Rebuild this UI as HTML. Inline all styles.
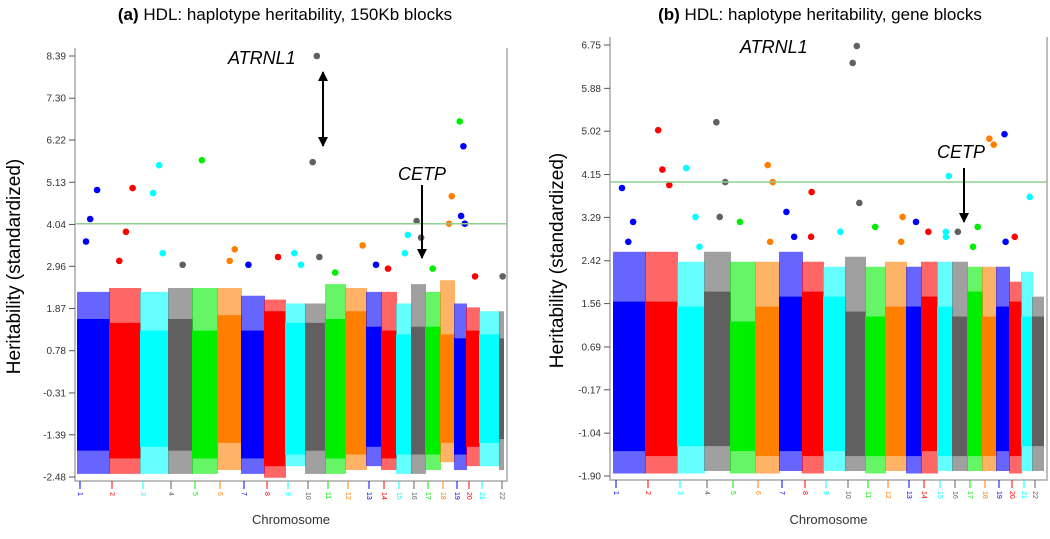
<!DOCTYPE html>
<html><head><meta charset="utf-8">
<style>
body{margin:0;background:#fff;}
svg{display:block;font-family:"Liberation Sans",sans-serif;}
</style></head>
<body>
<svg id="chart" width="1050" height="539" viewBox="0 0 1050 539"></svg>
<script>
const chromosomes=["1","2","3","4","5","6","7","8","9","10","11","12","13","14","15","16","17","18","19","20","21","22"];
const colors=["#0000ff","#ff0000","#00ffff","#606060","#00ee00","#ff8000"];
// Panel A data
const aTicks=[8.39,7.30,6.22,5.13,4.04,2.96,1.87,0.78,-0.31,-1.39,-2.48];
const aDenseTop=[1.6,1.5,1.3,1.6,1.3,1.7,1.3,1.8,1.5,1.5,1.6,1.8,1.4,1.3,1.2,1.4,1.4,1.2,1.1,1.3,1.2,1.1];
const aDenseBot=[-1.8,-2.0,-1.7,-1.8,-2.0,-1.6,-2.0,-2.2,-1.9,-1.8,-2.0,-1.9,-1.7,-2.0,-1.9,-1.9,-1.9,-1.6,-1.9,-1.7,-1.6,-1.5];
const aSparseTop=[2.3,2.4,2.3,2.4,2.4,2.4,2.2,2.1,2.0,2.0,2.5,2.4,2.3,2.3,2.0,2.5,2.3,2.6,2.0,1.9,1.8,1.8];
const aSparseBot=[-2.4,-2.4,-2.4,-2.4,-2.4,-2.3,-2.4,-2.5,-2.2,-2.4,-2.4,-2.3,-2.2,-2.3,-2.4,-2.4,-2.3,-2.1,-2.3,-2.2,-2.2,-2.3];
const aOutChr=[1,1,1,2,2,2,3,3,3,4,5,6,6,7,8,9,9,10,10,10,11,12,13,14,15,15,16,16,17,18,18,19,19,19,19,20,22];
const aOutVal=[3.6,4.93,4.18,4.98,3.85,3.1,5.57,4.85,3.3,3.0,5.7,3.4,3.1,3.0,3.2,3.3,3.0,8.39,5.65,3.2,2.8,3.5,3.0,2.9,3.77,3.3,4.13,3.7,2.9,4.77,4.06,6.7,6.06,4.26,4.06,2.7,2.7];
const aOutColorChr=[1,1,1,2,2,2,3,3,3,4,5,6,6,7,8,9,9,10,10,10,11,12,13,14,15,15,16,16,11,18,18,17,19,19,19,20,22];
// Panel B data
const bTicks=[6.75,5.88,5.02,4.15,3.29,2.42,1.56,0.69,-0.17,-1.04,-1.90];
const bDenseTop=[1.6,1.6,1.5,1.8,1.2,1.5,1.7,1.8,1.7,1.4,1.3,1.5,1.5,1.7,1.5,1.3,1.8,1.3,1.5,1.6,1.3,1.3];
const bDenseBot=[-1.4,-1.5,-1.3,-1.3,-1.4,-1.5,-1.4,-1.5,-1.4,-1.5,-1.5,-1.5,-1.5,-1.4,-1.5,-1.5,-1.5,-1.5,-1.4,-1.5,-1.3,-1.3];
const bSparseTop=[2.6,2.6,2.4,2.6,2.4,2.4,2.6,2.4,2.3,2.5,2.3,2.4,2.3,2.4,2.4,2.4,2.3,2.3,2.3,2.0,2.2,1.7];
const bSparseBot=[-1.85,-1.85,-1.85,-1.8,-1.85,-1.85,-1.8,-1.85,-1.8,-1.8,-1.85,-1.8,-1.85,-1.85,-1.8,-1.8,-1.8,-1.8,-1.8,-1.85,-1.8,-1.8];
const bOutChr=[1,1,2,2,2,3,3,4,4,4,5,6,6,7,7,8,9,10,10,10,11,12,13,14,15,15,16,17,18,18,19,20,21,1,3,6,8,12,15,17,19];
const bOutVal=[3.88,3.2,5.04,3.94,4.25,4.28,3.3,5.2,4.0,3.3,3.2,4.0,4.34,3.4,2.9,3.8,3.0,6.73,6.39,3.58,3.1,3.3,3.2,3.0,4.12,3.0,3.0,3.1,4.87,4.75,4.96,2.9,3.7,2.8,2.7,2.8,2.9,2.8,2.9,2.7,2.8];
const aChrTick=[80,112,143,171,195,220,244,267,288,308,328,348,369,384,399,414,428,443,457,469,482,502];
const bChrTick=[616,648,680,707,733,758,782,805,826,848,868,888,909,924,940,955,970,985,999,1012,1024,1035];

const NS="http://www.w3.org/2000/svg";
const svg=document.getElementById('chart');
function mk(tag,attrs,parent){const e=document.createElementNS(NS,tag);for(const k in attrs)e.setAttribute(k,attrs[k]);(parent||svg).appendChild(e);return e;}

function panel(cfg){
  const g=mk('g',{});
  
  
  const yMax=cfg.ticks[0],yMin=cfg.ticks[cfg.ticks.length-1];
  const Y=v=>cfg.yTop+(yMax-v)/(yMax-yMin)*(cfg.yBot-cfg.yTop);
  const chrL=i=>cfg.chrTick[i];
  const chrR=i=>i<cfg.chrTick.length-1?cfg.chrTick[i+1]-2:cfg.right-3;
  const X=(c,f)=>chrL(c-1)+(chrR(c-1)-chrL(c-1))*f;
  for(let i=0;i<chromosomes.length;i++){
    const col=colors[i%6];
    const s=mk('rect',{x:chrL(i)-3,y:Y(cfg.sparseTop[i]),width:chrR(i)-chrL(i)+3,height:Y(cfg.sparseBot[i])-Y(cfg.sparseTop[i]),fill:col,opacity:0.6},g);
    
    
    const d=mk('rect',{x:chrL(i)-3,y:Y(cfg.denseTop[i]),width:chrR(i)-chrL(i)+3,height:Y(cfg.denseBot[i])-Y(cfg.denseTop[i]),fill:col},g);
    
    
  }
  for(let k=0;k<cfg.outChr.length;k++){
    const c=cfg.outChr[k];
    const cc=cfg.outColChr?cfg.outColChr[k]:c;
    const f=0.2+((k*37)%60)/100;
    const p=mk('circle',{cx:X(c,f),cy:Y(cfg.outVal[k]),r:3.3,fill:colors[(cc-1)%6]},g);
    
    
  }
  const th=mk('line',{x1:cfg.left,x2:cfg.right,y1:Y(cfg.thr),y2:Y(cfg.thr),stroke:'#8fd08f','stroke-width':1.5},g);
  
  
  const ax=mk('path',{d:`M${cfg.left},${cfg.yTop-8}V${cfg.yBot+4}H${cfg.right}V${cfg.yTop-8}`,fill:'none',stroke:'#aaa','stroke-width':1.5},g);
  
  
  cfg.ticks.forEach(t=>{
    const y=Y(t);
    mk('line',{x1:cfg.left-6,x2:cfg.left,y1:y,y2:y,stroke:'#555'},g);
    const tx=mk('text',{x:cfg.left-9,y:y+3.5,'font-size':10,'text-anchor':'end',fill:'#333'},g);
    tx.textContent=t.toFixed(2);
    
    
  });
  chromosomes.forEach((c,i)=>{
    const x=cfg.chrTick[i],col=colors[i%6];
    mk('line',{x1:x,x2:x,y1:cfg.yBot+4,y2:cfg.yBot+12,stroke:col},g);
    const tx=mk('text',{x:0,y:0,'font-size':7,fill:col,transform:`translate(${x-2},${cfg.yBot+15}) rotate(90)`},g);
    tx.textContent=c;
    
    
  });
  const xt=mk('text',{x:(cfg.left+cfg.right)/2,y:524,'font-size':13,'text-anchor':'middle',fill:'#333'},g);
  xt.textContent='Chromosome';
  
  
  const yt=mk('text',{x:0,y:0,'font-size':19,'text-anchor':'middle',fill:'#000',transform:`translate(${cfg.yTitleX},${(cfg.yTop+cfg.yBot)/2}) rotate(-90)`},g);
  yt.textContent='Heritability (standardized)';
  
  
  const ti=mk('text',{x:cfg.titleX,y:20,'font-size':17,'text-anchor':'middle',fill:'#000'},g);
  ti.innerHTML=cfg.title;
  
  
  return {Y,X,g};
}

const A=panel({name:'panel-a',left:75,right:507,yTop:56,yBot:477,ticks:aTicks,thr:4.06,denseTop:aDenseTop,denseBot:aDenseBot,sparseTop:aSparseTop,sparseBot:aSparseBot,outChr:aOutChr,outVal:aOutVal,outColChr:aOutColorChr,chrTick:aChrTick,yTitleX:20,titleX:285,title:'<tspan font-weight="bold">(a)</tspan> HDL: haplotype heritability, 150Kb blocks'});
const B=panel({name:'panel-b',left:610,right:1047,yTop:45,yBot:476,ticks:bTicks,thr:4.00,denseTop:bDenseTop,denseBot:bDenseBot,sparseTop:bSparseTop,sparseBot:bSparseBot,outChr:bOutChr,outVal:bOutVal,chrTick:bChrTick,yTitleX:563,titleX:820,title:'<tspan font-weight="bold">(b)</tspan> HDL: haplotype heritability, gene blocks'});

function ann(x,y,t,name){const e=mk('text',{x,y,'font-size':18,'font-style':'italic',fill:'#000'});e.textContent=t;}
ann(228,64,'ATRNL1','atrnl1-label-a');
ann(398,180,'CETP','cetp-label-a');
ann(740,53,'ATRNL1','atrnl1-label-b');
ann(937,158,'CETP','cetp-label-b');
mk('defs',{}).innerHTML='<marker id="ah" viewBox="0 0 10 10" refX="9" refY="5" markerWidth="5" markerHeight="5" orient="auto-start-reverse"><path d="M0,0L10,5L0,10z" fill="#000"/></marker>';
function arrow(x1,y1,x2,y2,both,name){const l=mk('line',{x1,y1,x2,y2,stroke:'#000','stroke-width':2,'marker-end':'url(#ah)'});if(both)l.setAttribute('marker-start','url(#ah)');}
arrow(323,72,323,146,true,'atrnl1-arrow');
arrow(422,185,422,258,false,'cetp-arrow-a');
arrow(964,168,964,222,false,'cetp-arrow-b');
</script>
</body></html>
